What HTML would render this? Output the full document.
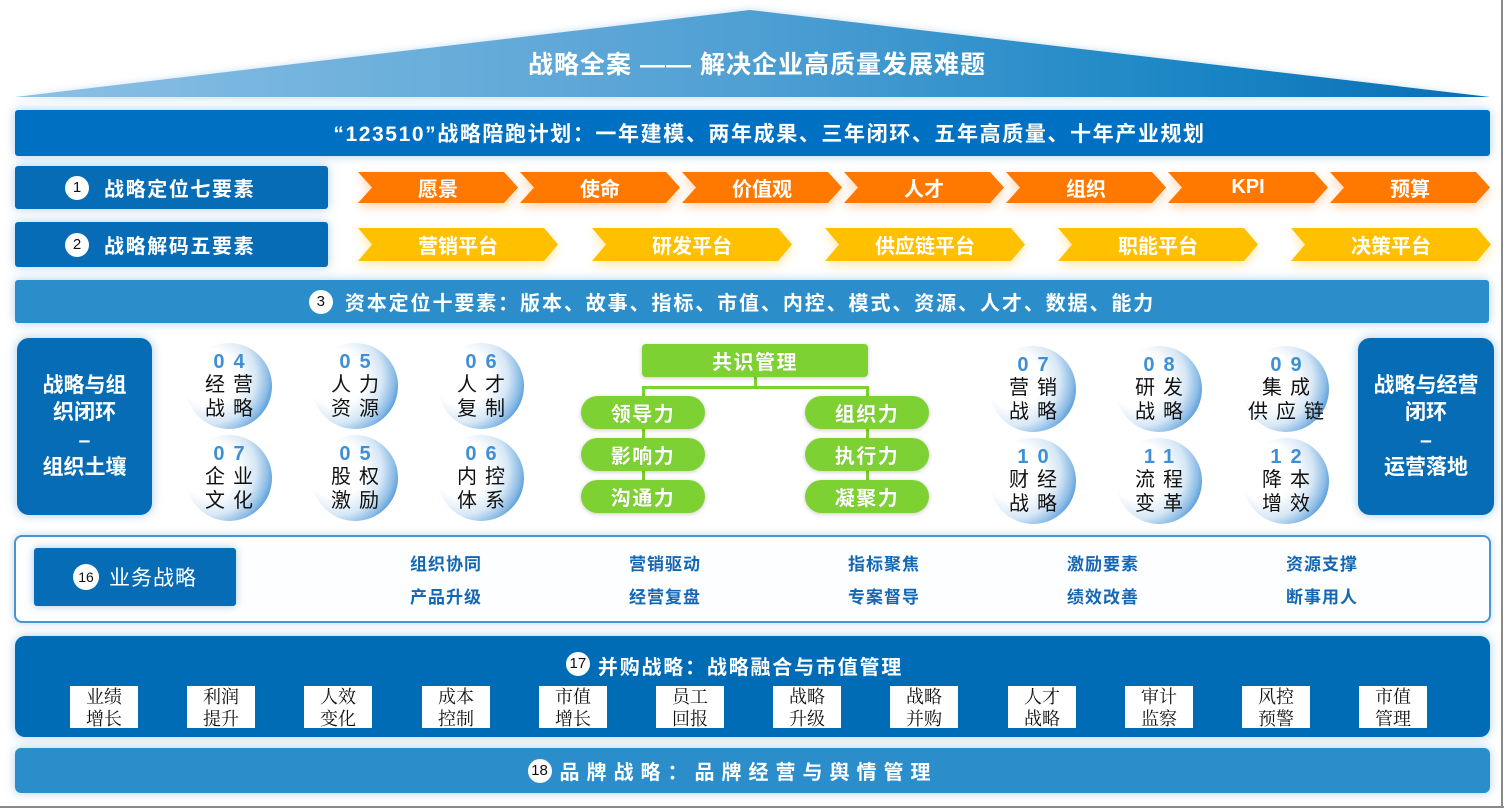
<!DOCTYPE html>
<html><head><meta charset="utf-8">
<style>
*{margin:0;padding:0;box-sizing:border-box}
body{width:1504px;height:808px;background:#fff;position:relative;overflow:hidden;font-family:"Liberation Sans","Noto Sans CJK SC",sans-serif}
.a{position:absolute}
.bar{position:absolute;color:#fff;font-weight:bold;display:flex;align-items:center;justify-content:center;border-radius:3px;box-shadow:0 0 10px rgba(110,165,215,.55);white-space:nowrap}
.num{display:inline-block;width:24px;height:24px;border-radius:50%;background:#fff;color:#111;font-weight:normal;font-size:15px;line-height:24px;text-align:center;font-family:"Liberation Sans",sans-serif;letter-spacing:0;flex:none}
.chw{position:absolute;filter:drop-shadow(0 4px 5px rgba(255,130,20,.35))}
.chw.y{filter:drop-shadow(0 4px 5px rgba(255,190,0,.35))}
.chev{position:absolute;clip-path:polygon(0 0,calc(100% - 14px) 0,100% 50%,calc(100% - 14px) 100%,0 100%,14px 50%);color:#fff;font-size:20px;font-weight:bold;display:flex;align-items:center;justify-content:center;white-space:nowrap}
.o{background:#ff7800;height:31px;width:160px}
.yl{background:#ffc000;height:33px;width:200px}
.side{position:absolute;background:#066cb6;border-radius:12px;color:#fff;font-weight:bold;font-size:21px;line-height:27.5px;text-align:center;display:flex;flex-direction:column;justify-content:center;box-shadow:0 0 10px rgba(110,165,215,.6)}
.cir{position:absolute;width:86px;height:86px;border-radius:50%;background:radial-gradient(circle at 28% 40%,#fff 0,#fff 28px,#d6e7f6 46px,#8dbde6 58px,#5b9edb 64px);display:flex;flex-direction:column;align-items:center;justify-content:center}
.cir div{font-size:20px;line-height:23.5px;letter-spacing:8px;padding-left:8px;color:#111;white-space:nowrap}
.cir div.n{color:#3e8fd6;font-weight:bold;font-family:"Liberation Sans",sans-serif;letter-spacing:9px;padding-left:9px}
.g{position:absolute;background:#7ed132;color:#fff;font-weight:bold;font-size:20px;letter-spacing:1.5px;display:flex;align-items:center;justify-content:center;box-shadow:0 1px 4px rgba(0,0,0,.22);text-shadow:0 0 1px rgba(0,0,0,.15)}
.pill{width:124px;height:33px;border-radius:17px}
.ln{position:absolute;background:#7ed132}
.biz{position:absolute;color:#1467b3;font-weight:bold;font-size:17px;letter-spacing:1px;white-space:nowrap;transform:translateX(-50%)}
.wb{position:absolute;top:686px;width:68px;height:42px;background:#fff;color:#111;font-family:"Liberation Serif","Noto Serif CJK SC",serif;font-size:18px;line-height:22px;text-align:center;padding-top:0px}
</style></head><body>

<!-- roof -->
<svg class="a" style="left:0;top:0" width="1504" height="110">
<defs>
<linearGradient id="rg" x1="0" x2="1" y1="0" y2="0">
<stop offset="0" stop-color="#8cc1e5"/>
<stop offset="0.5" stop-color="#4f9fd3"/>
<stop offset="0.8" stop-color="#1a86c4"/>
<stop offset="1" stop-color="#0a6db4"/>
</linearGradient>
<filter id="gl" x="-5%" y="-20%" width="110%" height="150%"><feGaussianBlur stdDeviation="4"/></filter>
</defs>
<polygon points="15,98 750,10 1490,98" fill="#a9cde9" filter="url(#gl)" opacity="0.7"/>
<polygon points="15,97 750,10 1490,97" fill="url(#rg)"/>
</svg>
<div class="a" style="left:0;top:50px;width:1514px;text-align:center;color:#fff;font-weight:bold;font-size:25px;letter-spacing:1px;line-height:30px;white-space:nowrap">战略全案 —— 解决企业高质量发展难题</div>

<!-- 123510 bar -->
<div class="bar" style="left:15px;top:110px;width:1475px;height:46px;background:#0070c3;font-size:21px;letter-spacing:1.6px;padding-left:34px">“123510”战略陪跑计划：一年建模、两年成果、三年闭环、五年高质量、十年产业规划</div>

<!-- row 1 -->
<div class="bar" style="left:15px;top:166px;width:313px;height:43px;background:#066cb6;justify-content:flex-start;padding-left:50px;font-size:20px;letter-spacing:1.6px"><span class="num" style="margin-right:15px">1</span>战略定位七要素</div>
<div class="chw"><div class="chev o" style="left:358px;top:172px">愿景</div><div class="chev o" style="left:520px;top:172px">使命</div><div class="chev o" style="left:682px;top:172px">价值观</div><div class="chev o" style="left:844px;top:172px">人才</div><div class="chev o" style="left:1006px;top:172px">组织</div><div class="chev o" style="left:1168px;top:172px">KPI</div><div class="chev o" style="left:1330px;top:172px">预算</div></div>

<!-- row 2 -->
<div class="bar" style="left:15px;top:222px;width:313px;height:45px;background:#066cb6;justify-content:flex-start;padding-left:50px;font-size:20px;letter-spacing:1.6px"><span class="num" style="margin-right:15px">2</span>战略解码五要素</div>
<div class="chw y"><div class="chev yl" style="left:358px;top:228px">营销平台</div><div class="chev yl" style="left:592px;top:228px">研发平台</div><div class="chev yl" style="left:825px;top:228px">供应链平台</div><div class="chev yl" style="left:1058px;top:228px">职能平台</div><div class="chev yl" style="left:1291px;top:228px">决策平台</div></div>

<!-- row 3 -->
<div class="bar" style="left:15px;top:280px;width:1474px;height:43px;background:#2b8ecb;font-size:20px;letter-spacing:1.9px;padding-right:40px"><span class="num" style="margin-right:12px">3</span>资本定位十要素：版本、故事、指标、市值、内控、模式、资源、人才、数据、能力</div>

<!-- left side box -->
<div class="side" style="left:17px;top:338px;width:135px;height:177px"><div>战略与组</div><div>织闭环</div><div>–</div><div>组织土壤</div></div>
<!-- right side box -->
<div class="side" style="left:1358px;top:338px;width:136px;height:177px"><div>战略与经营</div><div>闭环</div><div>–</div><div>运营落地</div></div>

<!-- left circles -->
<div class="cir" style="left:186px;top:343px"><div class="n">04</div><div>经营</div><div>战略</div></div>
<div class="cir" style="left:312px;top:343px"><div class="n">05</div><div>人力</div><div>资源</div></div>
<div class="cir" style="left:438px;top:343px"><div class="n">06</div><div>人才</div><div>复制</div></div>
<div class="cir" style="left:186px;top:435px"><div class="n">07</div><div>企业</div><div>文化</div></div>
<div class="cir" style="left:312px;top:435px"><div class="n">05</div><div>股权</div><div>激励</div></div>
<div class="cir" style="left:438px;top:435px"><div class="n">06</div><div>内控</div><div>体系</div></div>

<!-- right circles -->
<div class="cir" style="left:990px;top:346px"><div class="n">07</div><div>营销</div><div>战略</div></div>
<div class="cir" style="left:1116px;top:346px"><div class="n">08</div><div>研发</div><div>战略</div></div>
<div class="cir" style="left:1243px;top:346px"><div class="n">09</div><div>集成</div><div>供应链</div></div>
<div class="cir" style="left:990px;top:438px"><div class="n">10</div><div>财经</div><div>战略</div></div>
<div class="cir" style="left:1116px;top:438px"><div class="n">11</div><div>流程</div><div>变革</div></div>
<div class="cir" style="left:1243px;top:438px"><div class="n">12</div><div>降本</div><div>增效</div></div>

<!-- green tree -->
<div class="ln" style="left:754px;top:376px;width:3px;height:12px"></div>
<div class="ln" style="left:642px;top:386px;width:227px;height:3px"></div>
<div class="ln" style="left:642px;top:386px;width:3px;height:124px"></div>
<div class="ln" style="left:866px;top:386px;width:3px;height:124px"></div>
<div class="g" style="left:642px;top:344px;width:226px;height:33px;border-radius:4px">共识管理</div>
<div class="g pill" style="left:581px;top:396px">领导力</div>
<div class="g pill" style="left:581px;top:438px">影响力</div>
<div class="g pill" style="left:581px;top:480px">沟通力</div>
<div class="g pill" style="left:805px;top:396px">组织力</div>
<div class="g pill" style="left:805px;top:438px">执行力</div>
<div class="g pill" style="left:805px;top:480px">凝聚力</div>

<!-- business strategy -->
<div class="a" style="left:14px;top:535px;width:1477px;height:88px;border:2px solid #4a95cf;border-radius:8px;background:#fdfeff;box-shadow:0 0 8px rgba(110,165,215,.45)"></div>
<div class="bar" style="left:34px;top:548px;width:202px;height:58px;background:#066cb6;font-weight:normal;font-size:21px;letter-spacing:1px;box-shadow:0 0 8px rgba(80,140,200,.5)"><span class="num" style="width:26px;height:26px;line-height:26px;margin-right:10px;font-size:14px">16</span>业务战略</div>
<div class="biz" style="left:446px;top:550px">组织协同</div>
<div class="biz" style="left:446px;top:583px">产品升级</div>
<div class="biz" style="left:665px;top:550px">营销驱动</div>
<div class="biz" style="left:665px;top:583px">经营复盘</div>
<div class="biz" style="left:884px;top:550px">指标聚焦</div>
<div class="biz" style="left:884px;top:583px">专案督导</div>
<div class="biz" style="left:1103px;top:550px">激励要素</div>
<div class="biz" style="left:1103px;top:583px">绩效改善</div>
<div class="biz" style="left:1322px;top:550px">资源支撑</div>
<div class="biz" style="left:1322px;top:583px">断事用人</div>

<!-- 17 bar -->
<div class="bar" style="left:15px;top:636px;width:1475px;height:101px;background:#006cb6;border-radius:10px;align-items:flex-start;padding-top:15px;padding-right:36px;font-size:20px;letter-spacing:1.8px;font-weight:bold"><span class="num" style="margin-right:8px;margin-top:1px">17</span>并购战略：战略融合与市值管理</div>
<div class="wb" style="left:70px">业绩<br>增长</div>
<div class="wb" style="left:187px">利润<br>提升</div>
<div class="wb" style="left:304px">人效<br>变化</div>
<div class="wb" style="left:422px">成本<br>控制</div>
<div class="wb" style="left:539px">市值<br>增长</div>
<div class="wb" style="left:656px">员工<br>回报</div>
<div class="wb" style="left:773px">战略<br>升级</div>
<div class="wb" style="left:890px">战略<br>并购</div>
<div class="wb" style="left:1008px">人才<br>战略</div>
<div class="wb" style="left:1125px">审计<br>监察</div>
<div class="wb" style="left:1242px">风控<br>预警</div>
<div class="wb" style="left:1359px">市值<br>管理</div>

<!-- 18 bar -->
<div class="bar" style="left:15px;top:748px;width:1475px;height:45px;background:#2b8ecb;border-radius:6px;font-size:20px;letter-spacing:7px;font-weight:bold;padding-right:40px"><span class="num" style="margin-right:8px;letter-spacing:0">18</span>品牌战略：品牌经营与舆情管理</div>

<!-- frame lines -->
<div class="a" style="left:1501px;top:0;width:2px;height:808px;background:#8a8a8a"></div>
<div class="a" style="left:0;top:806px;width:1504px;height:2px;background:#8a8a8a"></div>
</body></html>
